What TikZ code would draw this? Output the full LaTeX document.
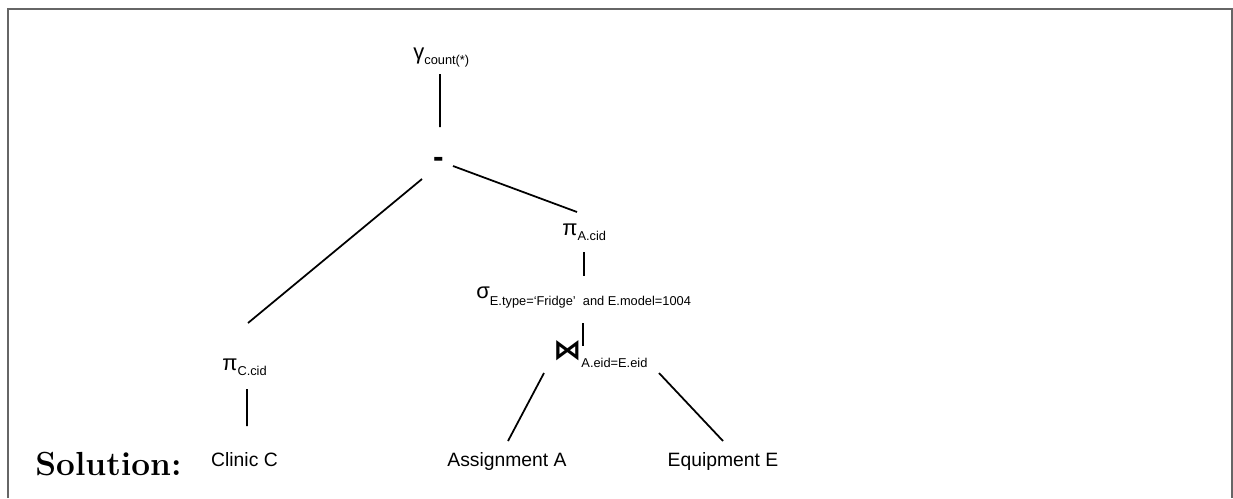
\documentclass[tikz,border=0pt]{standalone}
\usepackage{fontspec}
\setsansfont{Liberation Sans}
\newfontfamily\symfont{DejaVu Sans}
\usetikzlibrary{calc}

% operator with its lowered subscript
\newcommand{\rasub}[3]{{\fontsize{12.5}{12.5}\selectfont #1}\raisebox{-#3}{\fontsize{7.3}{7.3}\selectfont #2}}

\begin{document}
\begin{tikzpicture}[
    x=0.02cm, y=-0.02cm,
    op/.style={font=\sffamily\fontsize{11}{11}\selectfont, inner sep=0pt, anchor=base west},
    rel/.style={font=\sffamily\fontsize{11}{11}\selectfont, inner sep=0pt, anchor=base},
    edge/.style={line width=1pt},
    frame/.style={line width=1.2pt, black!60}
]
\useasboundingbox (0,0) rectangle (1233,498);

% Frame
\draw[frame] (8,498) -- (8,9) -- (1232,9) -- (1232,498);

% Operators
\node[op] (gam) at (413,59) {\rasub{γ}{count(*)}{2.85pt}};
\node[rel, font=\sffamily\bfseries\fontsize{18}{18}\selectfont] (minus) at (438.5,167) {-};
\node[op] (piA) at (562,235) {\rasub{π}{A.cid}{2.85pt}};
\node[op] (sig) at (476,298) {\rasub{σ}{E.type=`Fridge'\ \ and E.model=1004}{4pt}};
\node[op] (join) at (553,359) {\rasub{{\symfont\bfseries\fontsize{16}{16}\selectfont ⋈}}{A.eid=E.eid}{4.6pt}};
\node[op] (piC) at (222,370) {\rasub{π}{C.cid}{2.85pt}};

% Relations
\node[rel] (clinic) at (244.5,466) {Clinic C};
\node[rel] (assign) at (507,466) {Assignment A};
\node[rel] (equip) at (723,466) {Equipment E};

% Label
\node[anchor=base west, inner sep=0pt, font=\bfseries\fontsize{19}{19}\selectfont] (sol) at (35,475) {Solution:};

% Edges
\draw[edge] ([shift={(27,15)}]gam.base west) -- ([shift={(1.5,-40)}]minus.base);
\draw[edge] ([shift={(-16.5,12)}]minus.base) -- ([shift={(26,-47)}]piC.base west);
\draw[edge] ([shift={(14.5,-1)}]minus.base) -- ([shift={(15,-23)}]piA.base west);
\draw[edge] ([shift={(22,17)}]piA.base west) -- ([shift={(108,-22)}]sig.base west);
\draw[edge] ([shift={(107,25)}]sig.base west) -- ([shift={(30,-13)}]join.base west);
\draw[edge] ([shift={(-9,14)}]join.base west) -- ([shift={(1,-25)}]assign.base);
\draw[edge] ([shift={(106,14)}]join.base west) -- ([shift={(0,-25)}]equip.base);
\draw[edge] ([shift={(25,19)}]piC.base west) -- ([shift={(2.5,-40)}]clinic.base);

\end{tikzpicture}
\end{document}
